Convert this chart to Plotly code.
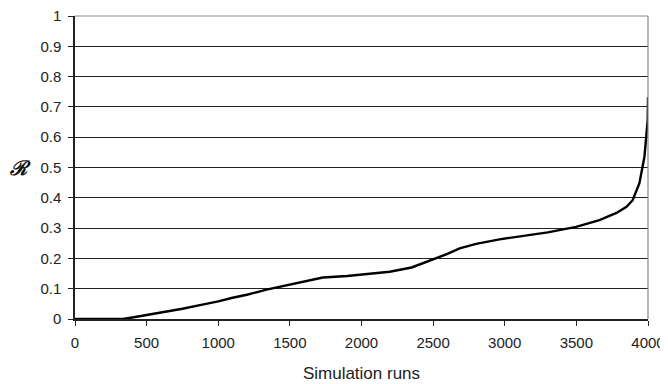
import plotly.graph_objects as go

runs = [0, 200, 335, 400, 500, 640, 750, 872, 1000, 1100, 1200, 1337, 1450, 1550, 1730, 1900, 2000, 2197, 2350, 2497, 2600, 2685, 2800, 2964, 3100, 3300, 3498, 3661, 3780, 3850, 3893, 3940, 3975, 3990, 3998, 4000]
r_values = [0, 0, 0, 0.005, 0.013, 0.025, 0.034, 0.046, 0.058, 0.07, 0.08, 0.097, 0.108, 0.12, 0.137, 0.142, 0.146, 0.156, 0.17, 0.195, 0.215, 0.233, 0.248, 0.263, 0.272, 0.286, 0.304, 0.326, 0.35, 0.37, 0.392, 0.448, 0.535, 0.6, 0.656, 0.732]

x_ticks = [0, 500, 1000, 1500, 2000, 2500, 3000, 3500, 4000]
y_ticks = [0, 0.1, 0.2, 0.3, 0.4, 0.5, 0.6, 0.7, 0.8, 0.9, 1]
y_tick_labels = ["0", "0.1", "0.2", "0.3", "0.4", "0.5", "0.6", "0.7", "0.8", "0.9", "1"]

fig = go.Figure()
fig.add_trace(go.Scatter(x=runs, y=r_values, mode="lines",
                         line=dict(color="black", width=2.4), showlegend=False))

font = dict(family="Liberation Sans, Arial, sans-serif", size=15, color="#222")

fig.update_layout(
    width=660, height=376,
    margin=dict(l=67, r=20, t=8, b=65),
    paper_bgcolor="white", plot_bgcolor="white",
    font=font,
    xaxis=dict(range=[0, 4000], tickvals=x_ticks, showgrid=False,
               showline=True, linecolor="#222", linewidth=1.5,
               ticks="outside", ticklen=5, tickcolor="#222",
               mirror=False, zeroline=False, automargin=False,
               ticklabelstandoff=4, ticklabeloverflow="allow",
               title=dict(text="Simulation runs", font=dict(size=17), standoff=17)),
    yaxis=dict(range=[0, 1], tickvals=y_ticks, ticktext=y_tick_labels,
               showgrid=True, gridcolor="#222", gridwidth=1,
               showline=True, linecolor="#222", linewidth=1.5,
               ticks="outside", ticklen=5, tickcolor="#222",
               zeroline=False, automargin=False,
               ticklabelstandoff=4, ticklabeloverflow="allow"),
    annotations=[
        dict(text="<b><i>ℛ</i></b>", xref="paper", yref="paper", x=0, y=0.5,
             xanchor="center", yanchor="middle", xshift=-55, showarrow=False,
             font=dict(size=20, family="DejaVu Serif, serif", color="#111")),
    ],
    shapes=[
        dict(type="line", xref="paper", yref="paper", x0=0, x1=1, y0=1, y1=1,
             line=dict(color="#888", width=1.2)),
        dict(type="line", xref="paper", yref="paper", x0=1, x1=1, y0=0, y1=1,
             line=dict(color="#888", width=1.2)),
    ],
)

fig.write_html("out.html")
